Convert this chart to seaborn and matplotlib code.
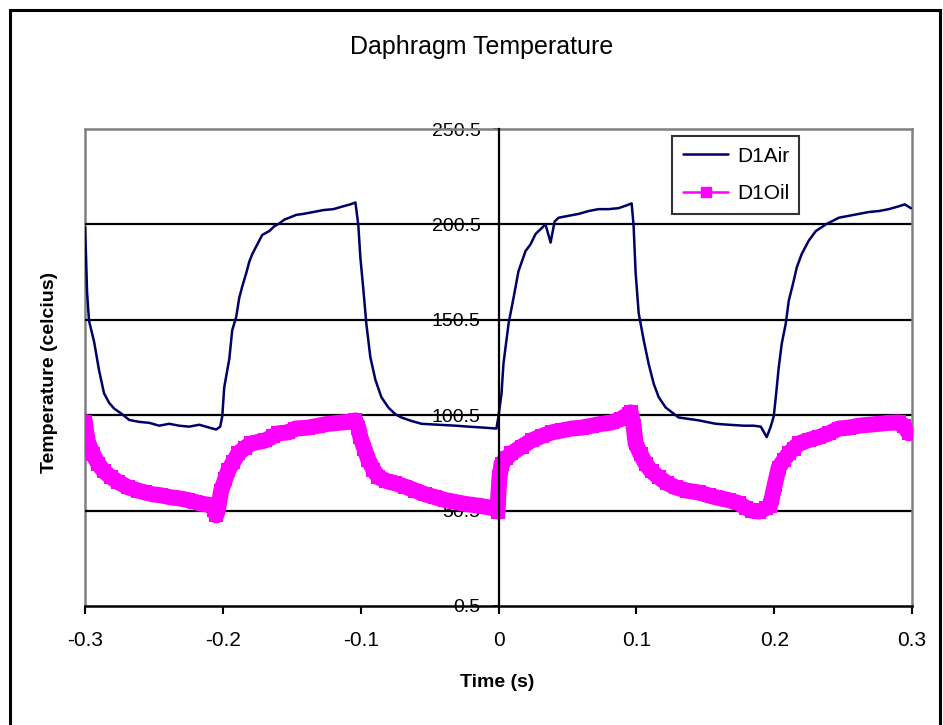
import matplotlib
matplotlib.use("Agg")
import matplotlib.pyplot as plt
from matplotlib.patches import Rectangle
from matplotlib.lines import Line2D
import pandas as pd
import seaborn as sns

# --- measured traces -------------------------------------------------------
air_time = [
    -0.3000, -0.2993, -0.2985, -0.2971, -0.2934, -0.2898, -0.2862, -0.2825,
    -0.2789, -0.2730, -0.2679, -0.2607, -0.2534, -0.2462, -0.2389, -0.2317,
    -0.2244, -0.2171, -0.2099, -0.2048, -0.2019, -0.2004, -0.1990, -0.1968,
    -0.1953, -0.1932, -0.1903, -0.1881, -0.1859, -0.1830, -0.1808, -0.1786,
    -0.1750, -0.1714, -0.1663, -0.1627, -0.1590, -0.1554, -0.1518, -0.1467,
    -0.1416, -0.1343, -0.1271, -0.1198, -0.1126, -0.1075, -0.1038, -0.1017,
    -0.1002, -0.0980, -0.0959, -0.0930, -0.0893, -0.0850, -0.0799, -0.0748,
    -0.0704, -0.0632, -0.0559, -0.0436, -0.0312, -0.0218, -0.0109, -0.0015,
    0.0000, 0.0022, 0.0036, 0.0073, 0.0109, 0.0145, 0.0196, 0.0232,
    0.0269, 0.0305, 0.0341, 0.0378, 0.0407, 0.0436, 0.0508, 0.0581,
    0.0654, 0.0726, 0.0799, 0.0871, 0.0930, 0.0966, 0.0980, 0.0995,
    0.1017, 0.1053, 0.1089, 0.1126, 0.1162, 0.1213, 0.1307, 0.1452,
    0.1576, 0.1670, 0.1779, 0.1852, 0.1903, 0.1946, 0.1975, 0.1997,
    0.2012, 0.2033, 0.2055, 0.2084, 0.2106, 0.2142, 0.2164, 0.2200,
    0.2251, 0.2302, 0.2375, 0.2469, 0.2542, 0.2614, 0.2687, 0.2760,
    0.2832, 0.2905, 0.2948, 0.2992,
]
air_temp = [
    199.0, 185.0, 165.0, 150.0, 139.0, 124.0, 112.0, 107.0,
    104.0, 101.0, 98.0, 97.0, 96.5, 95.0, 96.0, 95.0,
    94.5, 95.5, 94.0, 93.0, 94.5, 100.0, 115.0, 124.0,
    130.0, 145.0, 152.0, 162.0, 168.0, 175.0, 181.0, 185.0,
    190.0, 195.0, 197.0, 199.5, 201.0, 203.0, 204.0, 205.5,
    206.0, 207.0, 208.0, 208.5, 210.0, 211.0, 212.0, 200.0,
    183.0, 166.0, 148.5, 131.0, 119.0, 110.0, 104.5, 101.0,
    99.3, 97.5, 96.0, 95.5, 95.0, 94.5, 94.0, 93.5,
    100.0, 112.0, 127.5, 148.5, 162.0, 176.0, 186.5, 190.0,
    195.5, 198.0, 200.5, 191.0, 202.0, 204.0, 205.0, 206.0,
    207.5, 208.5, 208.5, 209.0, 210.5, 211.5, 200.0, 175.0,
    154.0, 140.0, 127.5, 117.0, 110.0, 104.5, 99.3, 97.8,
    96.0, 95.5, 95.0, 95.0, 94.5, 89.0, 94.5, 100.0,
    110.0, 125.5, 138.0, 148.5, 160.5, 171.0, 178.0, 185.0,
    192.0, 197.0, 200.5, 204.0, 205.0, 206.0, 207.0, 207.5,
    208.5, 210.0, 211.0, 209.0,
]

oil_time = [
    -0.3000, -0.2992, -0.2977, -0.2941, -0.2905, -0.2861, -0.2810, -0.2760,
    -0.2687, -0.2614, -0.2564, -0.2505, -0.2447, -0.2382, -0.2324, -0.2251,
    -0.2200, -0.2142, -0.2084, -0.2062, -0.2048, -0.2033, -0.2012, -0.1983,
    -0.1961, -0.1924, -0.1888, -0.1837, -0.1794, -0.1743, -0.1692, -0.1634,
    -0.1598, -0.1525, -0.1474, -0.1380, -0.1307, -0.1235, -0.1162, -0.1089,
    -0.1038, -0.1017, -0.1002, -0.0973, -0.0944, -0.0908, -0.0871, -0.0813,
    -0.0748, -0.0675, -0.0603, -0.0530, -0.0458, -0.0385, -0.0312, -0.0240,
    -0.0167, -0.0094, -0.0022, -0.0007, 0.0000, 0.0007, 0.0022, 0.0058,
    0.0094, 0.0167, 0.0240, 0.0312, 0.0385, 0.0458, 0.0530, 0.0603,
    0.0675, 0.0748, 0.0821, 0.0886, 0.0944, 0.0959, 0.0980, 0.0995,
    0.1031, 0.1068, 0.1111, 0.1162, 0.1220, 0.1285, 0.1365, 0.1452,
    0.1525, 0.1576, 0.1670, 0.1743, 0.1794, 0.1837, 0.1888, 0.1939,
    0.1968, 0.1983, 0.2004, 0.2033, 0.2070, 0.2106, 0.2142, 0.2179,
    0.2251, 0.2324, 0.2397, 0.2469, 0.2542, 0.2614, 0.2687, 0.2760,
    0.2832, 0.2905, 0.2941, 0.2977,
]
oil_temp = [
    97.0, 92.0, 86.0, 80.0, 75.0, 71.0, 68.0, 65.5,
    62.7, 61.0, 60.0, 59.0, 58.5, 57.5, 57.0, 56.0,
    55.0, 54.0, 53.3, 51.0, 48.0, 52.0, 61.0, 67.0,
    71.6, 76.0, 80.5, 83.5, 85.7, 86.5, 87.3, 89.5,
    91.0, 91.5, 93.5, 94.0, 95.0, 96.0, 96.5, 97.0,
    97.8, 94.0, 89.0, 83.0, 77.0, 72.0, 68.0, 66.0,
    64.8, 63.0, 61.0, 59.0, 57.5, 56.0, 55.0, 54.0,
    53.3, 52.5, 51.7, 50.0, 60.0, 68.0, 75.0, 78.0,
    80.5, 84.0, 87.3, 89.5, 91.5, 92.5, 93.5, 94.0,
    95.0, 96.0, 96.7, 98.5, 101.0, 102.0, 95.0, 85.7,
    80.0, 75.0, 71.0, 68.0, 65.0, 62.7, 61.0, 60.0,
    58.5, 57.5, 56.0, 54.4, 52.0, 50.5, 50.0, 51.7,
    53.0, 57.0, 64.0, 73.0, 77.0, 80.5, 83.0, 85.7,
    87.5, 89.0, 91.0, 93.5, 94.0, 95.0, 95.5, 96.0,
    96.5, 96.7, 95.0, 91.0,
]

series_names = ["D1Air", "D1Oil"]
x_ticks = [-0.3, -0.2, -0.1, 0.0, 0.1, 0.2, 0.3]
x_tick_labels = ["-0.3", "-0.2", "-0.1", "0", "0.1", "0.2", "0.3"]
y_ticks = [0.5, 50.5, 100.5, 150.5, 200.5, 250.5]
y_tick_labels = ["0.5", "50.5", "100.5", "150.5", "200.5", "250.5"]

AIR_COLOR = "#000066"
OIL_COLOR = "#FF00FF"
FRAME_GREY = "#808080"

sns.set_style("white")
plt.rcParams["font.family"] = ["Liberation Sans", "DejaVu Sans"]
plt.rcParams["text.color"] = "black"
plt.rcParams["axes.labelcolor"] = "black"
plt.rcParams["xtick.color"] = "black"
plt.rcParams["ytick.color"] = "black"

fig = plt.figure(figsize=(9.43, 7.25), dpi=100)
W, H = 943.0, 725.0
ax = fig.add_axes([85 / W, 1 - 606 / H, 827 / W, 477 / H])

air = pd.DataFrame({"Time (s)": air_time, "Temperature": air_temp})
oil = pd.DataFrame({"Time (s)": oil_time, "Temperature": oil_temp})

# horizontal grid lines between the axis and the top frame
for yv in y_ticks[1:-1]:
    ax.axhline(yv, color="black", lw=1.6, zorder=1)

sns.lineplot(data=oil, x="Time (s)", y="Temperature", ax=ax, sort=False,
             estimator=None, color=OIL_COLOR, lw=11.5, marker="s",
             markersize=10, markeredgewidth=0, zorder=3)
sns.lineplot(data=air, x="Time (s)", y="Temperature", ax=ax, sort=False,
             estimator=None, color=AIR_COLOR, lw=1.8, zorder=4)

ax.set_xlim(-0.3, 0.3)
ax.set_ylim(0.5, 250.5)
ax.set_xticks(x_ticks, x_tick_labels)
ax.set_yticks(y_ticks, y_tick_labels)

# value axis crosses at time zero
ax.spines["left"].set_position(("data", 0))
ax.spines["left"].set_color("black")
ax.spines["left"].set_linewidth(1.6)
ax.spines["left"].set_zorder(5)
ax.spines["bottom"].set_color("black")
ax.spines["bottom"].set_linewidth(1.8)
for side in ("top", "right"):
    ax.spines[side].set_color(FRAME_GREY)
    ax.spines[side].set_linewidth(1.8)
ax.axvline(-0.3, color=FRAME_GREY, lw=1.8, zorder=0.5, clip_on=False)

ax.tick_params(axis="x", direction="out", length=6, width=1.5,
               color="black", labelcolor="black", labelsize=15, pad=12,
               bottom=True)
ax.tick_params(axis="y", direction="out", length=4, width=1.2,
               color="black", labelcolor="black", labelsize=14, pad=9,
               left=True)

ax.set_xlabel("Time (s)", fontsize=14, fontweight="bold", color="black")
ax.set_ylabel("Temperature (celcius)", fontsize=14, fontweight="bold",
              color="black")
ax.xaxis.set_label_coords(0.498, -0.142)
ax.yaxis.set_label_coords(-0.033, 0.49)

fig.text(482 / W, 1 - 47 / H, "Daphragm Temperature", fontsize=18,
         ha="center", va="center", color="black")

handles = [
    Line2D([], [], color=AIR_COLOR, lw=1.8),
    Line2D([], [], color=OIL_COLOR, lw=1.8, marker="s", markersize=7),
]
leg = ax.legend(handles, series_names, loc="upper left",
                bbox_to_anchor=(0.710, 0.985), fontsize=15, frameon=True,
                fancybox=False, edgecolor="black", handlelength=2.2,
                handletextpad=0.4, labelspacing=0.9, borderpad=0.5,
                borderaxespad=0)
leg.get_frame().set_linewidth(1.5)
for txt in leg.get_texts():
    txt.set_color("black")

# chart-area border
fig.patches.append(Rectangle((10 / W, -0.05), 930 / W, 1.05 - 10 / H,
                             transform=fig.transFigure, fill=False,
                             edgecolor="black", lw=2.2))

fig.savefig("out.png", dpi=100)
